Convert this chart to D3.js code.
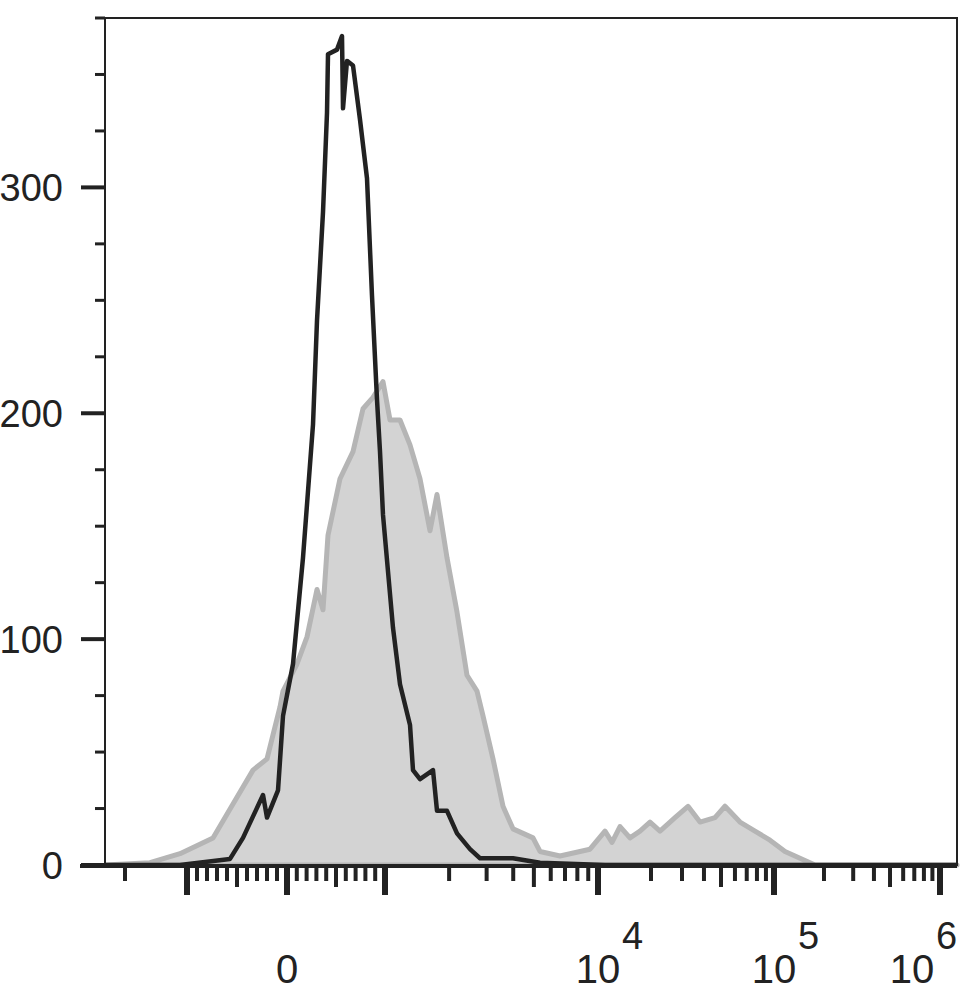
<!DOCTYPE html>
<html>
<head>
<meta charset="utf-8">
<script src="https://cdn.jsdelivr.net/npm/d3@7"></script>
<style>
  body { margin: 0; background: #fff; }
  text { font-family: "Liberation Sans", Arial, sans-serif; fill: #222; }
</style>
</head>
<body>
<svg id="chart"></svg>
<script>
// channel positions (0..852) and event counts
const blackChannel = [0, 75, 125, 138, 158, 162, 173, 178, 188, 198, 208, 212, 218, 222, 223, 232, 237, 238, 242, 248, 255, 262, 267, 272, 275, 278, 288, 295, 305, 308, 315, 328, 332, 342, 352, 365, 375, 408, 435, 500, 852];
const blackCount = [0, 0, 2.7, 12, 31, 21, 33, 66, 89, 136, 195, 241, 289, 333, 359, 361, 367, 335, 356, 354, 330, 304, 252, 206, 183, 155, 105, 80, 62, 42, 38, 42, 24, 24, 14, 7, 3, 3, 1, 0, 0];

const grayChannel = [0, 45, 60, 75, 108, 128, 148, 162, 175, 178, 192, 202, 212, 218, 223, 235, 248, 258, 268, 278, 285, 295, 305, 315, 325, 332, 342, 352, 362, 372, 378, 388, 398, 408, 428, 435, 455, 485, 500, 507, 515, 525, 535, 545, 555, 570, 583, 595, 610, 620, 635, 650, 665, 680, 695, 710, 852];
const grayCount = [0, 1, 3, 5, 12, 27, 42, 47, 70, 77, 89, 101, 122, 113, 146, 171, 183, 202, 207, 214, 197, 197, 186, 171, 148, 164, 136, 112, 84, 77, 66, 47, 26, 16, 12, 6, 4, 7, 15, 10, 17, 12, 15, 19, 15, 21, 26, 19, 21, 26, 19, 15, 11, 6, 3, 0, 0];

const yTicks = [0, 100, 200, 300];
const xLabels = [
  { v: 0, base: "0", exp: "" },
  { v: 1e4, base: "10", exp: "4" },
  { v: 1e5, base: "10", exp: "5" },
  { v: 1e6, base: "10", exp: "6" }
];

const width = 969, height = 992;
const margin = { left: 105, right: 12, top: 18, bottom: 127 };

const svg = d3.select("#chart").attr("width", width).attr("height", height);

const x = d3.scaleLinear().domain([0, 852]).range([margin.left, width - margin.right]);
const y = d3.scaleLinear().domain([0, 375]).range([height - margin.bottom, margin.top]);

// biexponential display: linear within +-1000, log outside
const tf = v => Math.abs(v) <= 1000 ? v / 1000 : Math.sign(v) * (1 + Math.log10(Math.abs(v) / 1000));
const toChannel = d3.scaleLinear()
  .domain([-2000, -1000, 0, 1000, 1e4, 1e5, 1e6].map(tf))
  .range([20, 82, 182, 280, 493, 669, 835]);
const xv = v => x(toChannel(tf(v)));

// histograms
const gray = grayChannel.map((c, i) => [c, grayCount[i]]);
const black = blackChannel.map((c, i) => [c, blackCount[i]]);

svg.append("path")
  .datum(gray)
  .attr("d", d3.area().x(d => x(d[0])).y0(y(0)).y1(d => y(d[1])))
  .attr("fill", "#d3d3d3")
  .attr("stroke", "#b5b5b5")
  .attr("stroke-width", 5)
  .attr("stroke-linejoin", "round");

svg.append("path")
  .datum(black)
  .attr("d", d3.line().x(d => x(d[0])).y(d => y(d[1])))
  .attr("fill", "none")
  .attr("stroke", "#222")
  .attr("stroke-width", 4.5)
  .attr("stroke-linejoin", "round");

// frame
svg.append("rect")
  .attr("x", margin.left).attr("y", margin.top)
  .attr("width", width - margin.right - margin.left)
  .attr("height", y(0) - margin.top)
  .attr("fill", "none").attr("stroke", "#222").attr("stroke-width", 2);
svg.append("line")
  .attr("x1", margin.left - 25).attr("x2", width - margin.right)
  .attr("y1", y(0) + 1).attr("y2", y(0) + 1)
  .attr("stroke", "#222").attr("stroke-width", 4);

// y axis ticks
const yAll = d3.range(0, 376, 25);
svg.append("g").selectAll("line").data(yAll).enter().append("line")
  .attr("x1", d => d % 100 === 0 ? margin.left - 24 : margin.left - 10)
  .attr("x2", margin.left)
  .attr("y1", d => y(d)).attr("y2", d => y(d))
  .attr("stroke", "#222")
  .attr("stroke-width", d => d % 100 === 0 ? 4 : 3);
svg.append("g").selectAll("text").data(yTicks).enter().append("text")
  .attr("x", 63).attr("y", d => y(d) + 14)
  .attr("text-anchor", "end")
  .attr("font-size", 38)
  .text(d => d);

// x axis ticks
const xt = [];
xt.push({ v: -2000, k: 0 });
for (let v = -1000; v <= 1000; v += 100) {
  xt.push({ v, k: Math.abs(v) === 1000 || v === 0 ? 2 : (Math.abs(v) === 500 ? 1 : 0) });
}
[1e3, 1e4, 1e5].forEach(dec => {
  for (let m = 2; m <= 10; m++) xt.push({ v: m * dec, k: m === 10 ? 2 : (m === 5 ? 1 : 0) });
});
const tickLen = [14, 20, 28];
svg.append("g").selectAll("line").data(xt).enter().append("line")
  .attr("x1", d => xv(d.v)).attr("x2", d => xv(d.v))
  .attr("y1", y(0) + 2).attr("y2", d => y(0) + 2 + tickLen[d.k])
  .attr("stroke", "#222")
  .attr("stroke-width", d => d.k === 2 ? 6 : 4);

const lab = svg.append("g").selectAll("g").data(xLabels).enter().append("g")
  .attr("transform", d => `translate(${Math.min(xv(d.v), 912)},983)`);
lab.append("text")
  .attr("text-anchor", "middle")
  .attr("font-size", 40)
  .text(d => d.base);
lab.append("text")
  .attr("x", 24).attr("y", -34)
  .attr("font-size", 38)
  .text(d => d.exp);
</script>
</body>
</html>
